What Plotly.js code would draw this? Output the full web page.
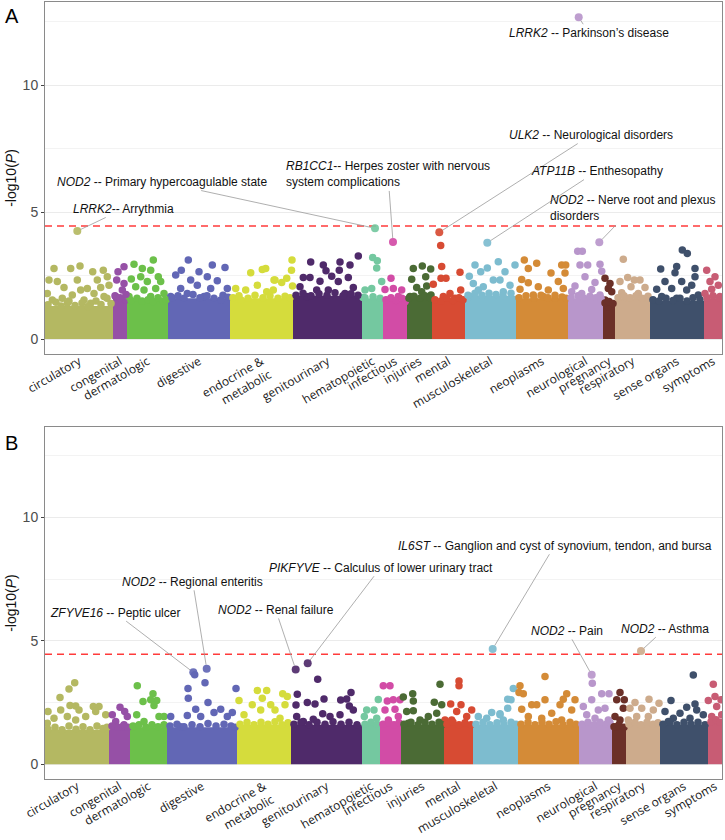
<!DOCTYPE html>
<html>
<head>
<meta charset="utf-8">
<script src="https://cdn.plot.ly/plotly-3.0.1.min.js"></script>
<style>
  html, body { margin:0; padding:0; background:#fff; }
  #chart { width:725px; height:840px; }
</style>
</head>
<body>
<div id="chart"></div>
<script>
// phecode categories, shared by both panels
const categories = ["circulatory","congenital","dermatologic","digestive","endocrine & metabolic","genitourinary",
  "hematopoietic","infectious","injuries","mental","musculoskeletal","neoplasms","neurological","pregnancy",
  "respiratory","sense organs","symptoms"];
const tickText = ["circulatory","congenital","dermatologic","digestive","endocrine &<br>metabolic","genitourinary",
  "hematopoietic","infectious","injuries","mental","musculoskeletal","neoplasms","neurological","pregnancy",
  "respiratory","sense organs","symptoms"];
const catColors = ["#b4b862","#9650a6","#6cc04a","#6267b5","#d5dc3c","#4f2a6a","#74c8a0","#d24ca6","#4b6b35",
  "#d74b33","#7dbccf","#d48b37","#b896cb","#6b3028","#cdab8c","#3f506b","#c85c74"];

// number of phenotypes per category (x order), panel A and B
const spansA = [68,14,41,62,63,69,21,24,25,33,51,52,35,12,35,54,18];
const spansB = [64,21,37,70,54,71,18,21,43,29,45,61,33,14,34,48,14];

// height below which the non-significant cloud is solid
const bandA = [1.3,1.6,1.5,1.6,1.6,1.7,1.6,1.5,1.6,1.5,1.7,1.6,1.6,1.4,1.6,1.5,1.6];
const bandB = [1.4,1.5,1.5,1.5,1.6,1.6,1.6,1.6,1.6,1.6,1.6,1.6,1.6,1.5,1.6,1.6,1.7];

const threshold = 4.45;

// individual visible points above the cloud: [phenotype index, -log10 P]
const ptsA = [
  [9,2.78],[25.7,2.78],[35,2.87],[47.7,2.65],[58.3,2.71],[52.3,2.32],[4,2.32],[12.3,2.26],[32.3,2.32],[62.3,2.45],
  [19,2.03],[42.3,1.99],[49,1.79],[2.3,1.79],[27.3,1.73],[35.7,1.93],[55.7,2.03],[64,2.12],[7.3,1.54],[17.3,1.6],
  [39,1.54],[59,1.67],[45.7,1.41],[22.3,1.41],
  [79,2.84],[73,2.65],[79,2.19],[71.7,2.32],[77.3,1.93],[70.7,1.67],[80.7,1.54],
  [108.3,3.11],[97.3,2.78],[89,2.94],[105.7,2.71],[113.3,2.45],[95.7,2.45],[86.3,2.36],[102.3,2.26],[115.7,2.26],
  [90.7,2.06],[99,1.93],[110.7,1.99],[119,1.79],[84,1.67],[105.7,1.67],
  [143.3,3.11],[167.3,2.91],[180,2.82],[136.3,2.71],[154,2.65],[162.3,2.45],[130.7,2.52],[145.7,2.32],[172.3,2.29],
  [152.3,2.12],[135.7,1.99],[165.7,1.99],[182.3,1.99],[125.7,1.67],[142.3,1.79],[159,1.67],[175.7,1.54],
  [205.7,2.61],[217.3,2.74],[220.7,2.78],[229,2.32],[190.7,1.99],[200.7,1.93],[212.3,2.12],[221.7,1.86],[196,1.54],
  [247,3.11],[246.5,2.71],[241.7,2.39],[230,2.32],[236.7,2.22],[228.3,1.93],[247.5,2.09],
  [313.3,3.27],[265.7,3.03],[295,3.03],[305,2.91],[278.3,2.91],[281,2.69],[294.3,2.71],[258.3,2.42],[265,2.42],
  [275,2.27],[286.7,2.47],[303.3,2.42],[293.3,2.26],[255,2.06],[271.7,1.93],[283.3,1.93],[308.3,2.03],[300,1.79],[261.7,1.67],
  [327.7,3.21],[332.3,3.08],[331.7,2.8],[320,1.93],[326.7,1.99],[336.7,2.26],[318,1.63],
  [346,2.39],[340,1.95],[348.3,1.99],[356.7,1.93],[353.3,1.67],[360,1.47],
  [368.3,2.78],[377.3,2.87],[385.7,2.76],[380.7,2.45],[366.7,2.35],[371.7,2.03],[381.7,2.09],[376.7,1.86],[386,1.73],[365,1.67],
  [395.7,3.68],[396.7,2.85],[415,2.63],[388.3,2.16],[396,2.39],[401,2.39],[415.7,1.93],[405,1.79],[398.3,1.67],[410,1.6],
  [430,2.91],[435.7,2.65],[442.3,2.8],[453.3,3.04],[424.3,2.47],[428.3,2.19],[438.3,2.06],[448.3,2.32],[433.3,1.93],
  [425,1.67],[470,2.91],[460,2.65],[455,2.32],[465,2.12],[458.3,1.86],
  [479.3,3.11],[491.7,2.98],[483.3,2.78],[516.7,2.91],[520.7,2.91],[506,2.6],[520,2.6],[476.7,2.34],[483.3,2.21],
  [513.3,2.26],[493.3,2.06],[503.3,1.93],[475,1.96],[518.3,1.99],[498.3,1.67],[488.3,1.73],[510,1.6],
  [532.7,3.46],[537.3,3.46],[535,2.91],[542.7,2.91],[555,2.94],[556.7,2.67],[540,2.45],[530,2.09],[550,2.22],
  [546.7,1.95],[526.7,1.86],[536.7,1.79],[555,1.73],
  [560,2.39],[565,2.19],[563.3,1.99],[566.7,1.86],[560,1.54],[563.3,1.28],
  [578.3,3.14],[582.7,2.42],[589.3,2.32],[595,2.32],[575,2.26],[586,2.06],[600,2.03],[576.7,1.82],[593.3,1.79],[581.7,1.6],[601.7,1.6],
  [637.3,3.5],[642.3,3.37],[615.7,2.76],[631.7,2.85],[650,2.78],[630,2.61],[650,2.45],[620,2.26],[636.7,2.26],
  [646.7,2.12],[611.7,1.96],[626.7,1.99],[641.7,1.93],[653.3,1.73],[616.7,1.67],[631.7,1.6],
  [661.7,2.71],[670,2.45],[665,2.26],[673.3,2.12],[666.7,1.96],[660,1.79],[675,1.67]
];
// ragged top of the dense cloud, panel A
const edgeA = [
  [3,1.35],[11,1.45],[16,1.3],[24,1.5],[30,1.32],[37,1.42],[43,1.28],[51,1.5],[56,1.36],[62,1.6],[66,1.4],
  [70,1.7],[75,1.62],[81,1.75],
  [86,1.52],[92,1.6],[97,1.5],[103,1.55],[108,1.48],[113,1.62],[118,1.5],[121,1.55],
  [127,1.62],[133,1.7],[139,1.6],[148,1.75],[155,1.62],[162,1.7],[169,1.6],[178,1.72],[183,1.64],
  [188,1.62],[194,1.7],[203,1.6],[210,1.72],[218,1.62],[225,1.7],[233,1.6],[240,1.68],[245,1.62],
  [251,1.72],[258,1.8],[266,1.7],[274,1.78],[282,1.72],[290,1.82],[298,1.7],[306,1.78],[313,1.72],
  [320,1.62],[328,1.66],[335,1.6],
  [341,1.55],[346,1.62],[351,1.52],[357,1.6],[361,1.55],
  [364,1.6],[369,1.68],[375,1.6],[380,1.7],[385,1.62],
  [390,1.55],[396,1.5],[402,1.6],[408,1.52],[414,1.62],[418,1.55],
  [423,1.72],[430,1.8],[437,1.72],[444,1.8],[451,1.75],[458,1.7],[466,1.8],
  [474,1.62],[481,1.7],[489,1.6],[496,1.72],[503,1.62],[510,1.72],[517,1.65],[521,1.6],
  [526,1.62],[533,1.7],[539,1.6],[545,1.68],[551,1.62],[556,1.6],
  [560,1.42],[564,1.48],[568,1.4],
  [573,1.62],[579,1.7],[585,1.62],[591,1.7],[597,1.6],[603,1.68],
  [608,1.55],[614,1.5],[621,1.6],[628,1.52],[635,1.6],[642,1.5],[648,1.62],[655,1.55],
  [662,1.62],[668,1.7],[674,1.62]
];
const ptsB = [
  [29.7,3.3],[24,3.05],[15,2.7],[25,2.38],[30.7,2.36],[48.3,2.34],[54,2.34],[3,2.13],[15.7,2.2],[34,2.2],[40.7,1.93],
  [60.7,2.0],[9,1.86],[22.3,1.93],[50.7,2.13],[30.7,1.79],[2.3,1.66],
  [75,2.31],[67.3,2.0],[79.7,2.13],[82.3,1.93],[70.7,1.73],[77.3,1.52],
  [92.3,3.18],[108,2.85],[111.7,2.58],[105.7,2.61],[98,2.54],[109,2.38],[91.7,2.0],[114,1.93],[119,1.93],[99,1.73],[89,1.52],
  [149.7,3.62],[160,3.3],[143,3.07],[191,3.07],[143.3,2.67],[163,2.5],[150.7,2.23],[169,2.09],[175.7,2.23],[187.3,2.09],
  [142.3,1.97],[125.7,1.93],[155.7,1.93],[182.3,1.93],[135.7,1.52],
  [212.3,2.99],[221.7,2.99],[217.3,2.67],[194,2.58],[207.3,2.41],[199,2.0],[215.7,2.2],[225.7,2.41],[237.7,2.85],
  [242.3,2.74],[230,2.2],[240,2.41],[235,1.86],
  [272.7,3.44],[252.3,2.83],[306,2.9],[279,2.64],[262.3,2.5],[270,2.44],[251,2.4],[295.7,2.6],[301.7,2.64],[304.3,2.36],
  [251.7,1.93],[277.7,2.04],[285,1.93],[295,2.0],[308.3,2.2],[268.3,1.82],[258.3,1.73],
  [333.3,2.62],[321.7,2.2],[329,2.2],[319.3,1.93],[331.7,1.86],
  [338.3,3.18],[345,3.18],[342.3,2.56],[348.3,2.61],[355,2.61],[340,2.2],[350,2.23],[353.3,1.93],[343.3,1.79],
  [395,3.24],[358.3,2.72],[367.7,2.85],[368.3,2.56],[389.3,2.51],[396.7,2.41],[361.7,2.13],[368.3,2.17],[383.3,1.93],
  [391.7,2.06],[375,1.79],[363.3,1.66],
  [414,3.37],[414,3.18],[405.7,2.44],[416,2.41],[426.7,2.2],[400,1.79],[411.7,2.13],[421.7,1.93],[406.7,1.79],
  [433.3,1.93],[441.7,1.86],[446.7,2.09],[455,2.04],[468.3,3.07],[462.7,2.63],[466,2.61],[462.7,2.27],[455,2.0],[458.3,1.79],
  [500,3.55],[475,3.18],[474,2.9],[478.3,2.85],[500,2.61],[521.7,2.85],[518.3,2.63],[530,2.61],[486.7,2.41],[491.7,2.41],
  [515,2.41],[476.7,2.23],[506.7,2.06],[526.7,2.2],[483.3,1.93],[496.7,1.86],[516.7,1.79],
  [547.3,3.28],[556.7,2.85],[564,2.85],[546.7,2.61],[538.3,2.34],[553.3,2.2],[560,2.27],[541.7,2.0],[550,1.86],[563.3,1.79],
  [575,2.9],[571.7,2.61],[579.3,2.61],[578.3,2.27],[570,1.93],[575,1.79],[571.7,1.52],
  [590,2.5],[604,2.63],[614,2.47],[585,2.27],[596.7,2.27],[608.3,2.2],[591.7,1.93],[603.3,1.93],[583.3,1.79],
  [648.3,3.61],[626,2.58],[650,2.44],[641.7,2.31],[620,2.13],[635,2.06],[651.7,2.2],[658.3,2.0],[628.3,1.86],[645,1.86],[623.3,1.73],
  [668.3,3.24],[670,2.74],[663.3,2.58],[676,2.61],[671.7,2.34],[666.7,1.93],[676.7,2.0]
];
// ragged top of the dense cloud, panel B
const edgeB = [
  [3,1.42],[10,1.5],[17,1.4],[24,1.55],[31,1.42],[38,1.52],[45,1.4],[52,1.55],[58,1.45],[62,1.5],
  [67,1.55],[73,1.5],[79,1.6],[83,1.5],
  [88,1.55],[94,1.6],[101,1.5],[107,1.6],[113,1.52],[119,1.6],
  [125,1.55],[132,1.62],[139,1.52],[147,1.6],[155,1.52],[163,1.65],[171,1.55],[179,1.62],[186,1.55],[190,1.5],
  [195,1.62],[202,1.7],[209,1.6],[216,1.7],[223,1.62],[230,1.72],[237,1.6],[243,1.68],
  [249,1.62],[256,1.7],[264,1.6],[272,1.7],[280,1.62],[288,1.72],[296,1.62],[304,1.7],[312,1.6],
  [320,1.62],[326,1.7],[332,1.62],
  [338,1.62],[344,1.68],[349,1.6],[354,1.68],
  [359,1.62],[366,1.7],[373,1.6],[380,1.7],[387,1.62],[394,1.7],[397,1.6],
  [402,1.62],[408,1.7],[414,1.6],[420,1.68],[426,1.6],
  [431,1.62],[438,1.7],[445,1.6],[452,1.68],[459,1.6],[466,1.7],[471,1.62],
  [476,1.62],[483,1.7],[490,1.6],[497,1.7],[504,1.62],[511,1.72],[518,1.6],[525,1.7],[531,1.62],
  [537,1.62],[543,1.7],[549,1.6],[555,1.7],[561,1.62],[565,1.68],
  [569,1.52],[574,1.6],[579,1.5],
  [584,1.62],[590,1.7],[596,1.6],[602,1.7],[608,1.62],[613,1.68],
  [618,1.62],[625,1.7],[632,1.6],[639,1.7],[646,1.62],[653,1.7],[660,1.6],
  [666,1.72],[671,1.8],[675,1.7]
];

// labelled hits
const hitGenesA = ["LRRK2","NOD2","RB1CC1","ULK2","ATP11B","NOD2","LRRK2"];
const hitTextA = ["-- Arrythmia"," -- Primary hypercoagulable state","-- Herpes zoster with nervous<br>system complications",
  " -- Neurological disorders"," -- Enthesopathy"," -- Nerve root and plexus<br>disorders"," -- Parkinson’s disease"];
const hitXA = [32.3,330,348,394.3,442.3,554.3,533.7];
const hitYA = [4.25,4.36,3.82,4.2,3.79,3.81,12.67];

const hitGenesB = ["ZFYVE16","NOD2","NOD2","PIKFYVE","IL6ST","NOD2","NOD2"];
const hitTextB = [" -- Peptic ulcer"," -- Regional enteritis"," -- Renal failure"," -- Calculus of lower urinary tract",
  " -- Ganglion and cyst of synovium, tendon, and bursa"," -- Pain"," -- Asthma"];
const hitXB = [148.3,161.7,250.7,262.7,447.7,546.7,596];
const hitYB = [3.72,3.87,3.84,4.09,4.67,3.62,4.59];

// where the repelled labels sit (data coords)
const labelPosA = [[78.5,5.12,"center"],[117,6.18,"center"],[343,6.48,"left"],[546,8.03,"center"],[552,6.61,"center"],[587,5.14,"left"],[543.7,12.06,"center"]];
const labelPosB = [[70,6.14,"center"],[147.7,7.39,"center"],[230.7,6.25,"center"],[335.5,7.96,"center"],[509.5,8.85,"center"],[522.3,5.4,"center"],[620,5.49,"center"]];

function starts(spans){
  const s = []; let acc = 0;
  for (const w of spans){ s.push(acc); acc += w; }
  return s;
}
function colorFor(x, spans){
  const st = starts(spans);
  for (let i=st.length-1;i>=0;i--) if (x >= st[i]) return catColors[i];
  return catColors[0];
}

function panelTraces(spans, band, pts, edge, hx, hy, xa, ya){
  const st = starts(spans);
  const bars = {
    type:"bar", x: st.map((s,i)=>s+spans[i]/2), y: band, width: spans,
    marker:{color:catColors, line:{width:0}}, xaxis:xa, yaxis:ya, hoverinfo:"skip"
  };
  const cloud = pts.concat(edge);
  const dots = {
    type:"scatter", mode:"markers", x: cloud.map(p=>p[0]), y: cloud.map(p=>p[1]),
    marker:{size:7.5, color: cloud.map(p=>colorFor(p[0], spans)), line:{width:0}},
    xaxis:xa, yaxis:ya
  };
  const hits = {
    type:"scatter", mode:"markers", x: hx, y: hy,
    marker:{size:8, color: hx.map(x=>colorFor(x, spans)), opacity:0.92, line:{width:0}},
    xaxis:xa, yaxis:ya
  };
  return [bars, dots, hits];
}

function hitAnnotations(genes, texts, hx, hy, pos, xr, yr){
  return genes.map((g,i)=>({
    x: hx[i], y: hy[i], xref:xr, yref:yr,
    ax: pos[i][0], ay: pos[i][1], axref:xr, ayref:yr,
    text: `<i>${g}</i>${texts[i]}`, align: pos[i][2],
    showarrow:true, arrowhead:0, arrowwidth:0.8, arrowcolor:"#9a9a9a", standoff:4,
    xanchor:"center", yanchor:"middle",
    font:{family:"Liberation Sans, Arial, sans-serif", size:12, color:"#111"}
  }));
}

const centersA = starts(spansA).map((s,i)=>s+spansA[i]/2);
const centersB = starts(spansB).map((s,i)=>s+spansB[i]/2);

const data = [
  ...panelTraces(spansA, bandA, ptsA, edgeA, hitXA, hitYA, "x", "y"),
  ...panelTraces(spansB, bandB, ptsB, edgeB, hitXB, hitYB, "x2", "y2")
];

const xBase = {
  range:[0,677], tickangle:-30, showgrid:false, zeroline:false,
  showline:true, mirror:true, linecolor:"#8a8a8a", linewidth:1, ticks:"", ticklabelstandoff:-5,
  tickfont:{family:"Open Sans, sans-serif", size:12, color:"#1a1a1a"}, fixedrange:true
};
const yBase = {
  tickvals:[0,5,10], ticks:"outside", ticklen:3, tickcolor:"#444", zeroline:false,
  showline:true, mirror:true, linecolor:"#8a8a8a", linewidth:1,
  gridcolor:"#ebebeb", gridwidth:1,
  minor:{dtick:2.5, tick0:0, showgrid:true, gridcolor:"#f3f3f3", gridwidth:1, ticks:""},
  tickfont:{family:"Liberation Sans, Arial, sans-serif", size:14, color:"#4d4d4d"},
  title:{text:"-log10(<i>P</i>)", standoff:2, font:{family:"Liberation Sans, Arial, sans-serif", size:14, color:"#111"}}
};

const layout = {
  width:725, height:840,
  margin:{l:45, r:3, t:2, b:61},
  paper_bgcolor:"#fff", plot_bgcolor:"#fff",
  showlegend:false, barmode:"overlay",
  xaxis: {...xBase, anchor:"y", tickvals:centersA, ticktext:tickText},
  yaxis: {...yBase, domain:[0.547,1], range:[-0.59,13.27], anchor:"x"},
  xaxis2:{...xBase, anchor:"y2", tickvals:centersB, ticktext:tickText},
  yaxis2:{...yBase, domain:[0,0.453], range:[-0.6,13.66], anchor:"x2"},
  shapes:[
    {type:"line", xref:"x domain", x0:0, x1:1, yref:"y", y0:threshold, y1:threshold, layer:"below",
     line:{color:"#ff3b3b", width:1.5, dash:"7px,5px"}},
    {type:"line", xref:"x2 domain", x0:0, x1:1, yref:"y2", y0:threshold, y1:threshold, layer:"below",
     line:{color:"#ff3b3b", width:1.5, dash:"7px,5px"}}
  ],
  annotations:[
    ...hitAnnotations(hitGenesA, hitTextA, hitXA, hitYA, labelPosA, "x", "y"),
    ...hitAnnotations(hitGenesB, hitTextB, hitXB, hitYB, labelPosB, "x2", "y2"),
    {text:"A", xref:"paper", yref:"paper", x:-0.062, y:0.999, xanchor:"left", yanchor:"top", showarrow:false,
     font:{family:"Liberation Sans, Arial, sans-serif", size:20, color:"#000"}},
    {text:"B", xref:"paper", yref:"paper", x:-0.062, y:0.449, xanchor:"left", yanchor:"top", showarrow:false,
     font:{family:"Liberation Sans, Arial, sans-serif", size:20, color:"#000"}}
  ]
};

Plotly.newPlot("chart", data, layout, {displayModeBar:false, staticPlot:true});
</script>
</body>
</html>
